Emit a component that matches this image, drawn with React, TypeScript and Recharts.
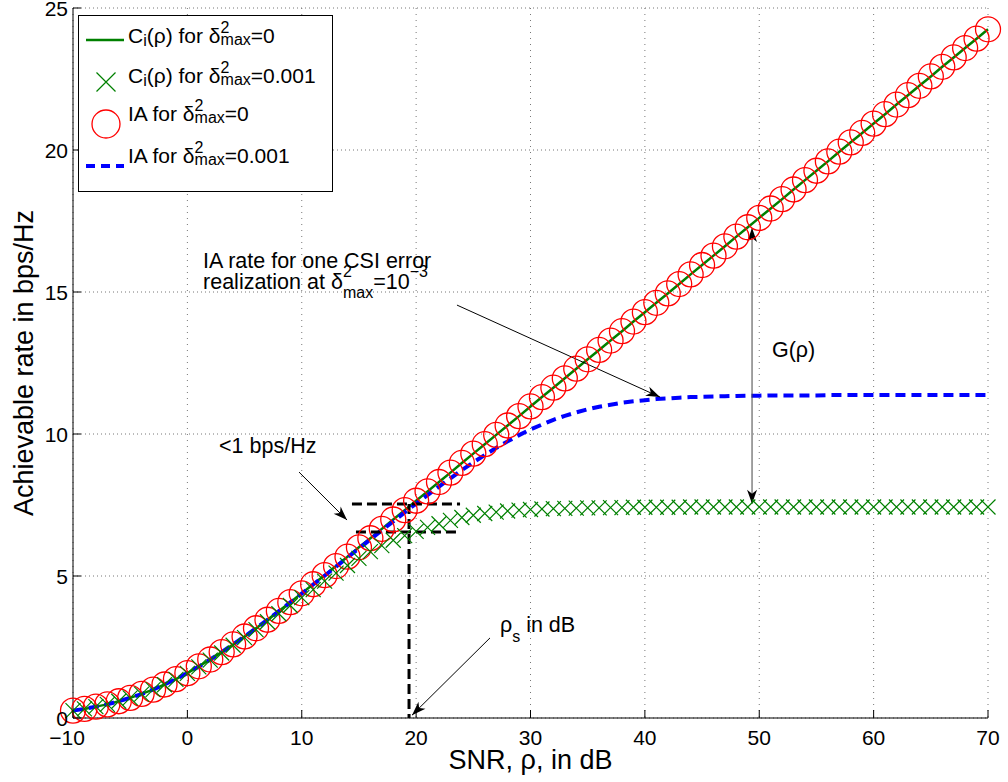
import React from 'react';
import { LineChart, Line, XAxis, YAxis, CartesianGrid, ReferenceLine, ReferenceDot, Legend, Label } from 'recharts';

// ---------- data ----------
const snrDb = [
  -10, -9, -8, -7, -6, -5, -4, -3, -2, -1,
  0, 1, 2, 3, 4, 5, 6, 7, 8, 9,
  10, 11, 12, 13, 14, 15, 16, 17, 18, 19,
  20, 21, 22, 23, 24, 25, 26, 27, 28, 29,
  30, 31, 32, 33, 34, 35, 36, 37, 38, 39,
  40, 41, 42, 43, 44, 45, 46, 47, 48, 49,
  50, 51, 52, 53, 54, 55, 56, 57, 58, 59,
  60, 61, 62, 63, 64, 65, 66, 67, 68, 69,
  70,
];

// C_i(rho) and IA for delta^2_max = 0 (the two curves coincide)
const rateNoError = [
  0.26, 0.32, 0.40, 0.48, 0.59, 0.71, 0.85, 1.00, 1.18, 1.37,
  1.58, 1.82, 2.06, 2.32, 2.59, 2.87, 3.16, 3.46, 3.77, 4.08,
  4.39, 4.71, 5.03, 5.35, 5.68, 6.01, 6.33, 6.66, 6.99, 7.32,
  7.65, 7.98, 8.31, 8.64, 8.98, 9.31, 9.64, 9.97, 10.30, 10.63,
  10.97, 11.30, 11.63, 11.96, 12.30, 12.63, 12.96, 13.29, 13.62, 13.96,
  14.29, 14.62, 14.95, 15.28, 15.62, 15.95, 16.28, 16.61, 16.95, 17.28,
  17.61, 17.94, 18.27, 18.61, 18.94, 19.27, 19.60, 19.94, 20.27, 20.60,
  20.93, 21.26, 21.60, 21.93, 22.26, 22.59, 22.93, 23.26, 23.59, 23.92,
  24.25,
];

// C_i(rho) for delta^2_max = 0.001 (green crosses)
const rateCiError = [
  0.26, 0.32, 0.40, 0.48, 0.59, 0.71, 0.84, 1.00, 1.17, 1.36,
  1.57, 1.80, 2.04, 2.29, 2.56, 2.83, 3.11, 3.39, 3.67, 3.96,
  4.24, 4.52, 4.82, 5.10, 5.37, 5.62, 5.86, 6.07, 6.26, 6.42,
  6.57, 6.71, 6.84, 6.96, 7.06, 7.14, 7.20, 7.25, 7.29, 7.32,
  7.34, 7.36, 7.37, 7.38, 7.39, 7.40, 7.40, 7.41, 7.41, 7.42,
  7.42, 7.42, 7.42, 7.42, 7.43, 7.43, 7.43, 7.43, 7.43, 7.43,
  7.43, 7.43, 7.43, 7.43, 7.43, 7.43, 7.43, 7.43, 7.43, 7.43,
  7.43, 7.43, 7.43, 7.43, 7.43, 7.43, 7.43, 7.43, 7.43, 7.43,
  7.43,
];

// IA for delta^2_max = 0.001 (blue dashed)
const rateIaError = [
  0.26, 0.32, 0.40, 0.48, 0.59, 0.71, 0.84, 1.00, 1.18, 1.37,
  1.58, 1.81, 2.06, 2.32, 2.59, 2.87, 3.16, 3.46, 3.76, 4.07,
  4.38, 4.70, 5.01, 5.33, 5.65, 5.97, 6.29, 6.61, 6.92, 7.24,
  7.55, 7.85, 8.15, 8.44, 8.73, 9.00, 9.26, 9.51, 9.74, 9.96,
  10.16, 10.33, 10.50, 10.64, 10.76, 10.87, 10.96, 11.03, 11.10, 11.15,
  11.19, 11.23, 11.25, 11.28, 11.30, 11.31, 11.32, 11.33, 11.34, 11.35,
  11.35, 11.36, 11.36, 11.36, 11.36, 11.36, 11.37, 11.37, 11.37, 11.37,
  11.37, 11.37, 11.37, 11.37, 11.37, 11.37, 11.37, 11.37, 11.37, 11.37,
  11.37,
];

const xTicks = [-10, 0, 10, 20, 30, 40, 50, 60, 70];
const yTicks = [0, 5, 10, 15, 20, 25];

// annotation anchors (data coordinates)
const iaArrow = [{ x: 23.57, y: 14.54 }, { x: 41.32, y: 11.3 }];
const gapArrow = [{ x: 9.76, y: 8.66 }, { x: 13.96, y: 6.97 }];
const rhoArrow = [{ x: 26.46, y: 2.82 }, { x: 19.64, y: 0.1 }];
const gArrow = [{ x: 49.37, y: 17.25 }, { x: 49.37, y: 7.54 }];
const boxTop = [{ x: 14.39, y: 7.535 }, { x: 23.84, y: 7.535 }];
const boxBottom = [{ x: 14.74, y: 6.55 }, { x: 23.84, y: 6.55 }];
const boxVertical = [{ x: 19.38, y: 7.535 }, { x: 19.38, y: 0 }];
const iaTextAt = { x: 1.37, y: 15.85 };
const gapTextAt = { x: 2.77, y: 9.33 };
const gTextAt = { x: 51.11, y: 12.71 };
const rhoTextAt = { x: 27.33, y: 3.03 };

const data = snrDb.map((snr, i) => ({
  snr,
  ci0: rateNoError[i],
  ciErr: rateCiError[i],
  ia0: rateNoError[i],
  iaErr: rateIaError[i],
}));

const FONT = "'Liberation Sans', Arial, Helvetica, sans-serif";
const GREEN = '#008000';
const RED = '#ff0000';
const BLUE = '#0000ff';

// ---------- marks ----------
const CrossDot = (props: any) => {
  const { cx, cy, index } = props;
  if (cx == null || cy == null) return <g key={`x-${index}`} />;
  const s = 7.5;
  return (
    <path
      key={`x-${index}`}
      d={`M${cx - s},${cy - s}L${cx + s},${cy + s}M${cx - s},${cy + s}L${cx + s},${cy - s}`}
      stroke={GREEN}
      strokeWidth={1.2}
      fill="none"
    />
  );
};

const CircleDot = (props: any) => {
  const { cx, cy, index } = props;
  if (cx == null || cy == null) return <g key={`o-${index}`} />;
  return <circle key={`o-${index}`} cx={cx} cy={cy} r={12.5} stroke={RED} strokeWidth={1.3} fill="none" />;
};

const head = (tx: number, ty: number, fx: number, fy: number, color: string) => {
  const a = Math.atan2(ty - fy, tx - fx);
  const L = 14, W = 5, N = 4;
  const c = Math.cos(a), s = Math.sin(a);
  const pt = (u: number, v: number) => `${tx + u * c - v * s},${ty + u * s + v * c}`;
  return <polygon points={`${pt(0, 0)} ${pt(-L, W)} ${pt(-L + N, 0)} ${pt(-L, -W)}`} fill={color} />;
};

const arrowShape = (both: boolean, color: string) => (p: any) => {
  const { x1, y1, x2, y2 } = p;
  return (
    <g>
      <line x1={x1} y1={y1} x2={x2} y2={y2} stroke={color} strokeWidth={1} />
      {head(x2, y2, x1, y1, '#000')}
      {both ? head(x1, y1, x2, y2, '#000') : null}
    </g>
  );
};

// ---------- axes ----------
const XTick = (p: any) => {
  const { x, y, payload } = p;
  const v = payload.value;
  const t = v < 0 ? `\u2212${Math.abs(v)}` : `${v}`;
  return (
    <g>
      <line x1={x} x2={x} y1={y} y2={y - 8} stroke="#000" strokeWidth={1} />
      <text x={v < 0 ? x - 6 : x} y={y + 27} textAnchor="middle" fontSize={21} fontFamily={FONT} fill="#000">
        {t}
      </text>
    </g>
  );
};

const YTick = (p: any) => {
  const { x, y, payload } = p;
  return (
    <g>
      <line x1={x} x2={x + 8} y1={y} y2={y} stroke="#000" strokeWidth={1} />
      <text x={x - 5} y={y + 7.5} textAnchor="end" fontSize={21} fontFamily={FONT} fill="#000">
        {payload.value}
      </text>
    </g>
  );
};

const XLabel = (p: any) => {
  const vb = p.viewBox || { x: 73, y: 718, width: 915, height: 64 };
  return (
    <text x={vb.x + vb.width / 2} y={vb.y + 51} textAnchor="middle" fontSize={27} fontFamily={FONT} fill="#000">
      SNR, ρ, in dB
    </text>
  );
};

const YLabel = (p: any) => {
  const vb = p.viewBox || { x: 0, y: 8, width: 73, height: 710 };
  const cx = 33;
  const cy = vb.y + vb.height / 2;
  return (
    <text x={cx} y={cy} transform={`rotate(-90, ${cx}, ${cy})`} textAnchor="middle" fontSize={27} fontFamily={FONT} fill="#000">
      Achievable rate in bps/Hz
    </text>
  );
};

// ---------- annotation texts ----------
const IaText = (p: any) => {
  const { cx, cy } = p;
  return (
    <text x={cx} y={cy} fontSize={21.5} fontFamily={FONT} fill="#000">
      <tspan x={cx} y={cy}>IA rate for one CSI error</tspan>
      <tspan x={cx} y={cy + 21}>realization at δ</tspan>
      <tspan fontSize={16} dy={-12}>2</tspan>
      <tspan fontSize={16} dx={-8.9} dy={21}>max</tspan>
      <tspan dy={-9}>=10</tspan>
      <tspan fontSize={16} dy={-12}>−3</tspan>
    </text>
  );
};

const GapText = (p: any) => (
  <text x={p.cx} y={p.cy} fontSize={21.5} fontFamily={FONT} fill="#000">&lt;1 bps/Hz</text>
);

const GText = (p: any) => (
  <text x={p.cx} y={p.cy} fontSize={21.5} fontFamily={FONT} fill="#000">G(ρ)</text>
);

const RhoText = (p: any) => (
  <text x={p.cx} y={p.cy} fontSize={21.5} fontFamily={FONT} fill="#000">
    ρ<tspan fontSize={16} dy={10}>s</tspan>
    <tspan dy={-10}> in dB</tspan>
  </text>
);

// ---------- legend ----------
const legendLabels = ['C_i(ρ) for δ²max=0', 'C_i(ρ) for δ²max=0.001', 'IA for δ²max=0', 'IA for δ²max=0.001'];

const DeltaMax = ({ value }: { value: string }) => (
  <>
    <tspan fontSize={16} dy={-10}>2</tspan>
    <tspan fontSize={16} dx={-8.9} dy={12}>max</tspan>
    <tspan dy={-2}>={value}</tspan>
  </>
);

const LegendBox = () => {
  const tx = 50;
  const rows = [28, 68, 106, 148];
  const fs = 21;
  return (
    <svg width={255} height={177} style={{ display: 'block' }} aria-label={legendLabels.join('; ')}>
      <rect x={0.5} y={0.5} width={254} height={176} fill="#fff" stroke="#000" strokeWidth={1} />
      <line x1={8} x2={46} y1={25} y2={25} stroke={GREEN} strokeWidth={2.5} />
      <text x={tx} y={rows[0]} fontSize={fs} fontFamily={FONT} fill="#000">
        C<tspan fontSize={16} dy={3}>i</tspan>
        <tspan dy={-3}>(ρ) for δ</tspan>
        <DeltaMax value="0" />
      </text>
      <path d="M18.5,57.5L37.5,76.5M18.5,76.5L37.5,57.5" stroke={GREEN} strokeWidth={1.2} fill="none" />
      <text x={tx} y={rows[1]} fontSize={fs} fontFamily={FONT} fill="#000">
        C<tspan fontSize={16} dy={3}>i</tspan>
        <tspan dy={-3}>(ρ) for δ</tspan>
        <DeltaMax value="0.001" />
      </text>
      <circle cx={28} cy={109} r={14} stroke={RED} strokeWidth={1.3} fill="none" />
      <text x={tx} y={rows[2]} fontSize={fs} fontFamily={FONT} fill="#000">
        IA for δ
        <DeltaMax value="0" />
      </text>
      <line x1={8} x2={46} y1={151} y2={151} stroke={BLUE} strokeWidth={4} strokeDasharray="9 6" />
      <text x={tx} y={rows[3]} fontSize={fs} fontFamily={FONT} fill="#000">
        IA for δ
        <DeltaMax value="0.001" />
      </text>
    </svg>
  );
};

export default function App() {
  return (
    <div style={{ position: 'absolute', left: 0, top: 0, width: 1008, height: 782, background: '#fff', fontFamily: FONT }}>
      <LineChart width={1008} height={782} data={data} margin={{ top: 8, right: 20, bottom: 0, left: 0 }}>
        <CartesianGrid vertical={false} stroke="#777" strokeDasharray="1 3" />
        <CartesianGrid horizontal={false} stroke="#777" strokeDasharray="1 5" />
        <XAxis
          dataKey="snr"
          type="number"
          domain={[-10, 70]}
          ticks={xTicks}
          interval={0}
          height={64}
          tickSize={0}
          tickMargin={0}
          tickLine={false}
          tick={XTick}
          axisLine={{ stroke: '#000', strokeWidth: 1 }}
        >
          <Label content={XLabel} />
        </XAxis>
        <YAxis
          type="number"
          domain={[0, 25]}
          ticks={yTicks}
          interval={0}
          width={73}
          tickSize={0}
          tickMargin={0}
          tickLine={false}
          tick={YTick}
          axisLine={{ stroke: '#000', strokeWidth: 1 }}
        >
          <Label content={YLabel} />
        </YAxis>
        <Legend
          layout="horizontal"
          verticalAlign="middle"
          align="center"
          content={() => <LegendBox />}
          wrapperStyle={{ left: 78, top: 15, width: 255, height: 177 }}
        />
        <Line dataKey="ia0" name="IA for δ²max=0" stroke="none" dot={CircleDot} activeDot={false} isAnimationActive={false} />
        <Line dataKey="ciErr" name="Ci(ρ) for δ²max=0.001" stroke="none" dot={CrossDot} activeDot={false} isAnimationActive={false} />
        <Line dataKey="ci0" name="Ci(ρ) for δ²max=0" stroke={GREEN} strokeWidth={2.5} dot={false} activeDot={false} isAnimationActive={false} />
        <Line dataKey="iaErr" name="IA for δ²max=0.001" stroke={BLUE} strokeWidth={4} strokeDasharray="10 6" dot={false} activeDot={false} isAnimationActive={false} />

        <ReferenceLine segment={boxTop} stroke="#000" strokeWidth={3} strokeDasharray="10 5" />
        <ReferenceLine segment={boxBottom} stroke="#000" strokeWidth={3} strokeDasharray="10 5" />
        <ReferenceLine segment={boxVertical} stroke="#000" strokeWidth={3} strokeDasharray="10 5" />
        <ReferenceLine segment={iaArrow} shape={arrowShape(false, '#000')} />
        <ReferenceLine segment={gapArrow} shape={arrowShape(false, '#000')} />
        <ReferenceLine segment={rhoArrow} shape={arrowShape(false, '#000')} />
        <ReferenceLine segment={gArrow} shape={arrowShape(true, '#444')} />

        <ReferenceDot x={iaTextAt.x} y={iaTextAt.y} r={0} shape={IaText} />
        <ReferenceDot x={gapTextAt.x} y={gapTextAt.y} r={0} shape={GapText} />
        <ReferenceDot x={gTextAt.x} y={gTextAt.y} r={0} shape={GText} />
        <ReferenceDot x={rhoTextAt.x} y={rhoTextAt.y} r={0} shape={RhoText} />
      </LineChart>
    </div>
  );
}
